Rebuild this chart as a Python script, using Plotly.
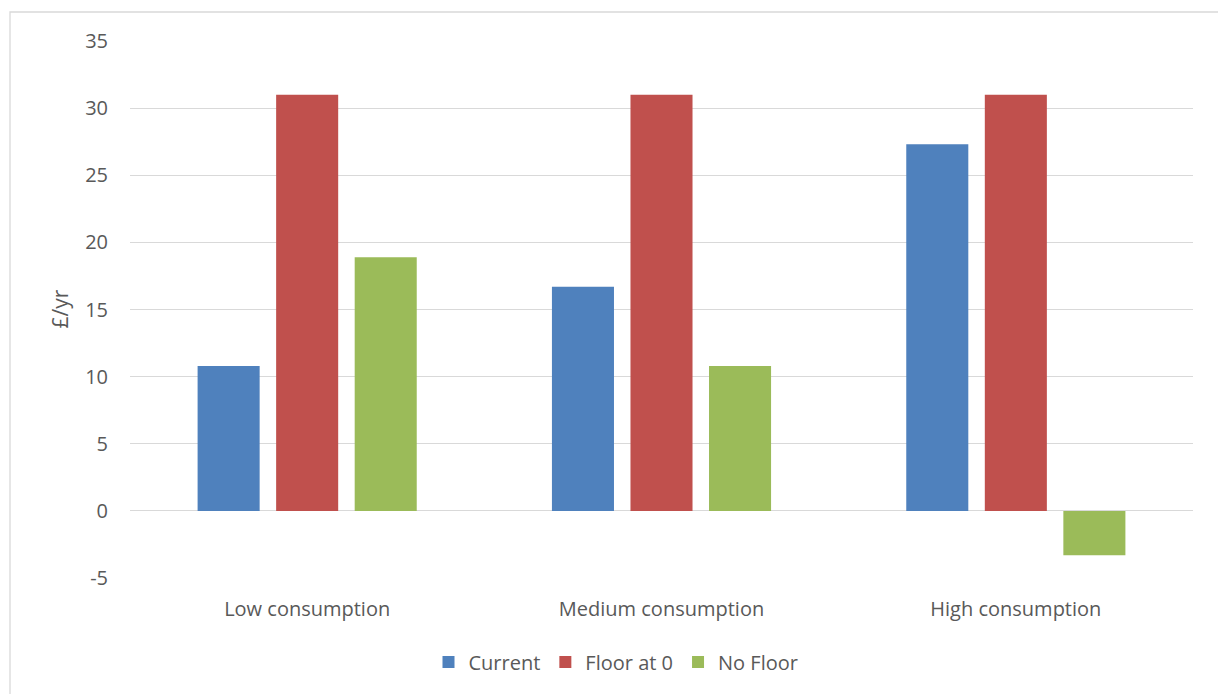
import plotly.graph_objects as go

categories = ["Low consumption", "Medium consumption", "High consumption"]
series_names = ["Current", "Floor at 0", "No Floor"]
current = [10.8, 16.7, 27.3]
floor_at_0 = [31.0, 31.0, 31.0]
no_floor = [18.9, 10.8, -3.3]
y_ticks = [-5, 0, 5, 10, 15, 20, 25, 30, 35]
y_tick_text = ["-5", "0", "5", "10", "15", "20", "25", "30", "35"]

colors = ["#4F81BD", "#C0504D", "#9BBB59"]
FONT = "Open Sans"
TXT = "#595959"
FS = 20

fig = go.Figure()
for name, vals, col in zip(series_names, [current, floor_at_0, no_floor], colors):
    fig.add_trace(go.Bar(x=categories, y=vals, name=name, marker=dict(color=col, line=dict(width=0))))

L, R, T, B = 130, 25, 41, 116
W, H = 1218, 694
pw = W - L - R
ph = H - T - B

fig.update_layout(
    width=W, height=H,
    margin=dict(l=L, r=R, t=T, b=B),
    paper_bgcolor="white", plot_bgcolor="white",
    barmode="group", bargap=0.335, bargroupgap=0.21,
    font=dict(family=FONT, size=FS, color=TXT),
    showlegend=True,
    legend=dict(orientation="h", x=(616 - L) / pw, xanchor="center",
                y=(H - B - 662) / ph, yanchor="middle",
                font=dict(family=FONT, size=FS, color=TXT),
                itemwidth=30, traceorder="normal"),
    xaxis=dict(showgrid=False, showline=False, ticks="", ticklabelstandoff=17,
               tickfont=dict(family=FONT, size=FS, color=TXT)),
    yaxis=dict(range=[-5, 35], tickvals=y_ticks, ticktext=y_tick_text, showgrid=True,
               gridcolor="#D9D9D9", gridwidth=1.3, zeroline=False, showline=False, ticks="",
               ticklabelstandoff=21, tickfont=dict(family=FONT, size=FS, color=TXT)),
    annotations=[dict(text="£/yr", x=(59 - L) / pw, y=0.5, xref="paper", yref="paper",
                      textangle=-90, showarrow=False, xanchor="center", yanchor="middle",
                      font=dict(family=FONT, size=FS + 1, color=TXT))],
    shapes=[dict(type="rect", xref="paper", yref="paper",
                 x0=(10 - L) / pw, x1=1.2, y0=-0.5, y1=(H - B - 12) / ph,
                 line=dict(color="#D9D9D9", width=1.3), fillcolor="rgba(0,0,0,0)", layer="below")],
)

fig.write_html("out.html")
